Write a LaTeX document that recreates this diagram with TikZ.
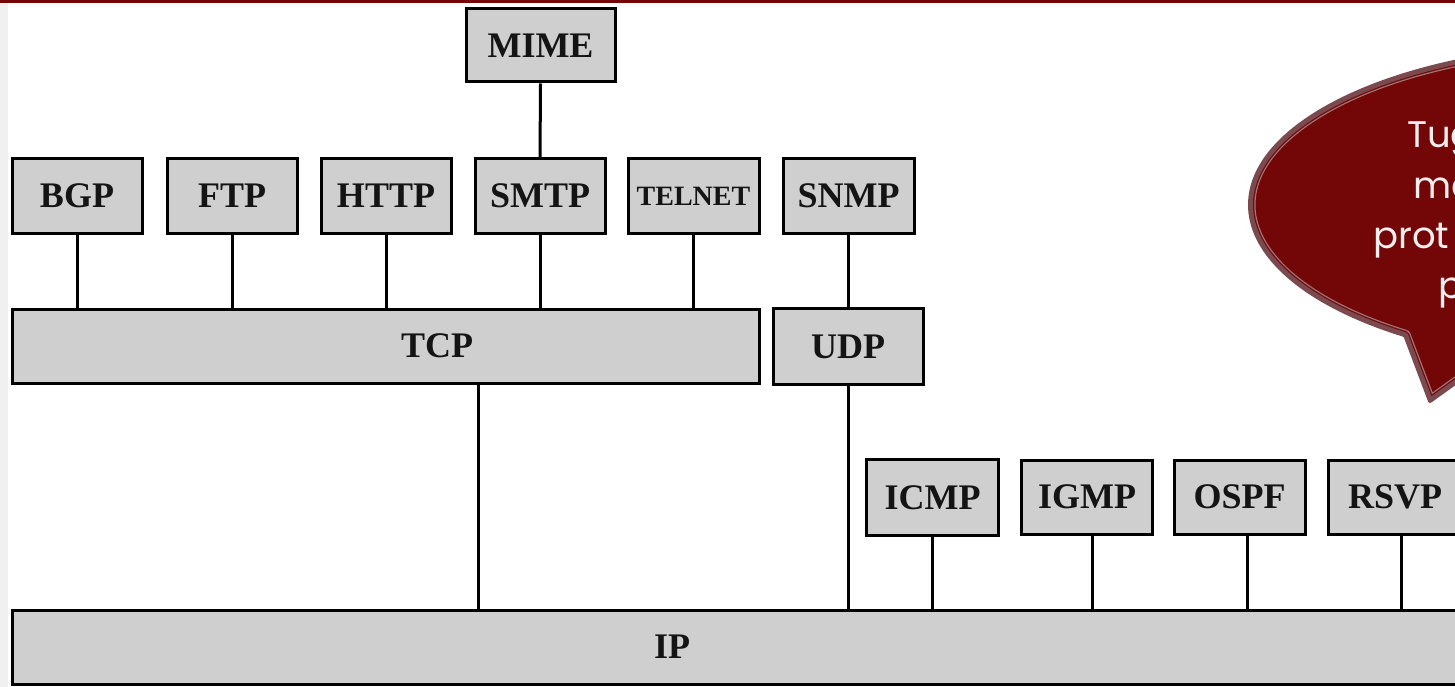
\documentclass[tikz,border=0pt]{standalone}
\usepackage{fontspec}
\setmainfont{Liberation Serif}
\newfontfamily\notefont{Poppins}
\usetikzlibrary{calc}
\definecolor{slidered}{HTML}{780303}
\definecolor{stripgray}{HTML}{F0F0F0}
\definecolor{boxgray}{HTML}{CFCFCF}
\definecolor{bubblefill}{HTML}{730606}
\definecolor{bubbleedge}{HTML}{7B4A4E}
\definecolor{bubbleline}{HTML}{A87A7C}
\definecolor{notetext}{HTML}{F4EEEE}
\begin{document}
\begin{tikzpicture}[x=1pt,y=-1pt,
  proto/.style={draw=black, line width=3pt, fill=boxgray, inner sep=0pt,
    minimum width=131pt, minimum height=74pt, text=black!92,
    font=\fontsize{36}{40}\selectfont\bfseries},
  protolabel/.style={inner sep=0pt, text=black!92,
    font=\fontsize{36}{40}\selectfont\bfseries},
  link/.style={line width=3pt, black},
  notetxt/.style={inner sep=0pt, anchor=base west, text=notetext,
    font=\notefont\fontsize{37}{46}\selectfont}]
\useasboundingbox (0,0) rectangle (1455,687);
\clip (0,0) rectangle (1455,687);

% slide frame
\fill[slidered] (0,0) rectangle (1455,3.5);
\fill[stripgray] (0,3.5) rectangle (8,687);

% application layer
\node[proto, minimum width=149pt, minimum height=73pt] (mime) at (540.5,45.5) {MIME};
\node[proto, minimum width=130pt] (bgp)    at (77,196)    {BGP};
\node[proto, minimum width=130pt] (ftp)    at (232,196)   {FTP};
\node[proto, minimum width=130pt] (http)   at (386,196)   {HTTP};
\node[proto, minimum width=130pt] (smtp)   at (540,196)   {SMTP};
\node[proto] (telnet) at (693.5,196) {\fontsize{28}{32}\selectfont TELNET};
\node[proto] (snmp)   at (848.5,196) {SNMP};

% transport layer
\node[proto, minimum width=747pt] (tcp) at (385.5,346) {};
\node[protolabel] (tcptext) at (437,346) {TCP};
\node[proto, minimum width=150pt, minimum height=76pt] (udp) at (848,346.5) {UDP};

% protocols directly over IP
\node[proto, minimum width=132pt, minimum height=76pt] (icmp) at (932.5,497.5) {ICMP};
\node[proto] (igmp) at (1087,497) {IGMP};
\node[proto] (ospf) at (1239.5,497) {OSPF};
\node[proto, minimum width=134pt] (rsvp) at (1395,497) {RSVP};

% network layer
\node[proto, minimum width=1458pt] (ip) at (741,647) {};
\node[protolabel] (iptext) at (672,647) {IP};

% connections
\draw[link] (mime.south) -- (smtp.north);
\foreach \n in {bgp,ftp,http,smtp,telnet}
  \draw[link] (\n.south) -- (\n.south |- tcp.north);
\draw[link] (snmp.south) -- (snmp.south |- udp.north);
\draw[link] ([xshift=92.5pt]tcp.south) -- ([xshift=92.5pt]tcp.south |- ip.north);
\draw[link] (udp.south) -- (udp.south |- ip.north);
\draw[link] (icmp.south) -- (icmp.south |- ip.north);
\draw[link] ([xshift=5pt]igmp.south) -- ([xshift=5pt]igmp.south |- ip.north);
\draw[link] ([xshift=7.5pt]ospf.south) -- ([xshift=7.5pt]ospf.south |- ip.north);
\draw[link] ([xshift=6.5pt]rsvp.south) -- ([xshift=6.5pt]rsvp.south |- ip.north);

% speech bubble
\coordinate (bc) at (1620,205);
\coordinate (tailR) at ($(bc)+(110:370 and 160)$);
\coordinate (tailL) at ($(bc)+(125.5:370 and 160)$);
\coordinate (tip) at (1430,401);
\def\bubblepath{(tailR) -- (tip) -- (tailL) arc[start angle=125.5, end angle=470, x radius=370, y radius=160] -- cycle}
\fill[bubblefill] \bubblepath;
\begin{scope}
  \clip \bubblepath;
  \draw[bubbleline, line width=11pt, line join=round] \bubblepath;
  \draw[bubbleedge, line width=9pt, line join=round] \bubblepath;
  \draw[bubblefill, line width=8pt, line join=round] \bubblepath;
  \draw[bubbleedge, line width=6pt, line join=round] \bubblepath;
\end{scope}
\draw[bubbleedge, line width=4pt, line join=round] \bubblepath;

\node[notetxt] (note1) at (1407,148) {Tug};
\node[notetxt] (note2) at (1413,198) {me};
\node[notetxt] (note3) at (1373,248) {prot};
\node[notetxt] (note4) at (1438,298) {p};
\end{tikzpicture}
\end{document}
